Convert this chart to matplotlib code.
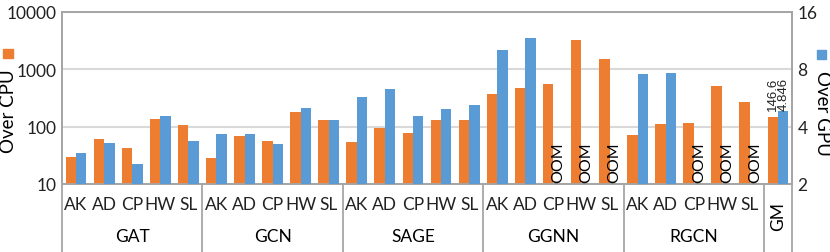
import numpy as np
import matplotlib.pyplot as plt
from matplotlib.patches import Rectangle
from matplotlib.lines import Line2D
from matplotlib.transforms import blended_transform_factory

plt.rcParams['font.family'] = ['Lato', 'DejaVu Sans']

# donnees
models = ["GAT", "GCN", "SAGE", "GGNN", "RGCN"]
datasets = ["AK", "AD", "CP", "HW", "SL"]
over_cpu = [29.5, 61, 43, 135, 105,
            28, 69, 57, 181, 130,
            54, 95, 77, 128, 130,
            367, 461, 541, 3190, 1490,
            71, 110, 114, 513, 270,
            146.6]
over_gpu = [2.9, 3.29, 2.54, 4.52, 3.36,
            3.67, 3.64, 3.25, 5.02, 4.34,
            5.73, 6.29, 4.54, 4.94, 5.18,
            10.1, 11.6, np.nan, np.nan, np.nan,
            7.5, 7.66, np.nan, np.nan, np.nan,
            4.846]

orange = "#ED7D31"
blue = "#5B9BD5"
grey = "#a6a6a6"

n = len(over_cpu)
x = np.arange(n)
w = 0.37

fig = plt.figure(figsize=(8.3, 2.53), dpi=100)
ax = fig.add_axes([62/830, 1-185/253, 730/830, 172.5/253])
ax2 = ax.twinx()

ax.bar(x - w/2, over_cpu, w, color=orange, zorder=3)
ax.set_yscale('log')
ax.set_ylim(10, 10000)
ax.set_xlim(-0.5, n - 0.5)
ax.set_yticks([10, 100, 1000, 10000])
ax.set_yticklabels(["10", "100", "1000", "10000"])
ax.minorticks_off()
ax.grid(axis='y', color="#d9d9d9", lw=1.5, zorder=0)

ax2.bar(x + w/2, over_gpu, w, color=blue, zorder=3)
ax2.set_yscale('log', base=2)
ax2.set_ylim(2, 16)
ax2.set_yticks([2, 4, 8, 16])
ax2.set_yticklabels(["2", "4", "8", "16"])
ax2.minorticks_off()

for a in (ax, ax2):
    for s in a.spines.values():
        s.set_color(grey)
        s.set_linewidth(1.3)
    a.tick_params(length=0, labelsize=12.5, colors="#222222")
ax.tick_params(axis='y', pad=4)
ax2.tick_params(axis='y', pad=4)

# labels des categories
xlabels = datasets * len(models) + [""]
ax.set_xticks(x)
ax.set_xticklabels(xlabels)
ax.tick_params(axis='x', pad=9)

trans = blended_transform_factory(ax.transData, ax.transAxes)
for i, m in enumerate(models):
    ax.text(i*5 + 2, -0.30, m, transform=trans, ha='center', va='center', fontsize=12.5)
ax.text(n - 1, -0.185, "GM", transform=trans, ha='center', va='center',
        rotation=90, fontsize=12.5)

# separateurs de groupes
for b in [-0.5, 4.5, 9.5, 14.5, 19.5, 24.5, n - 0.5]:
    ax.add_line(Line2D([b, b], [0, -0.4], transform=trans, color=grey, lw=1.3, clip_on=False))

# OOM
for i in range(n):
    if np.isnan(over_gpu[i]):
        ax2.text(x[i] + w/2, 2.05, "OOM", rotation=90, ha='center', va='bottom',
                 fontsize=11.5, zorder=4)

# valeurs GM
ax2.text(x[-1] - w/2, over_gpu[-1]*1.01, "146.6", rotation=90, ha='center', va='bottom',
         fontsize=9.5, family='Liberation Sans', color="#222222")
ax2.text(x[-1] + w/2 + 0.03, over_gpu[-1]*1.01, "4.846", rotation=90, ha='center', va='bottom',
         fontsize=9.5, family='Liberation Sans', color="#222222")

# axes titles + legend squares
fig.text(8/830, 1-111/253, "Over CPU", rotation=90, ha='center', va='center', fontsize=13.5)
fig.text(822/830, 1-113/253, "Over GPU", rotation=-90, ha='center', va='center', fontsize=13.5)
fig.patches.append(Rectangle((3/830, 1-59/253), 10/830, 9/253, transform=fig.transFigure,
                             color=orange, figure=fig))
fig.patches.append(Rectangle((817/830, 1-60/253), 9/830, 9/253, transform=fig.transFigure,
                             color=blue, figure=fig))

fig.savefig("out.png", dpi=100)
